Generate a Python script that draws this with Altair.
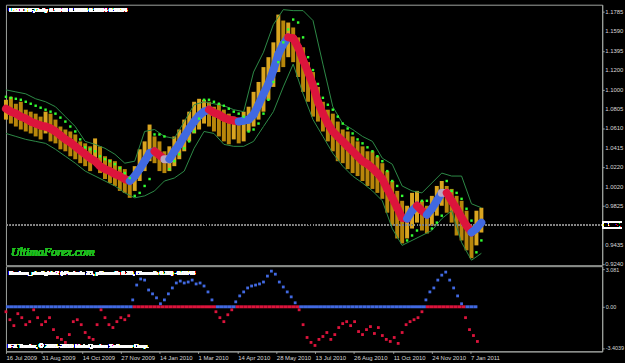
import json
import altair as alt
import numpy as np
import pandas as pd

# ---------------- data ----------------
SYMBOL = "USDCHF,Daily"
last_ohlc = [0.9640, 0.9686, 0.9604, 0.9634]
last_price = 0.9634

BAR_STEP = 5   # bar index step of the sampled price bars
price_high = [1.090, 1.093, 1.086, 1.088, 1.080, 1.078, 1.076, 1.073, 1.078, 1.076,
              1.070, 1.063, 1.060, 1.058, 1.055, 1.048, 1.046, 1.043, 1.051, 1.043,
              1.033, 1.030, 1.028, 1.023, 1.020, 1.013, 1.023, 1.040, 1.048, 1.065,
              1.053, 1.048, 1.038, 1.043, 1.053, 1.060, 1.070, 1.078, 1.088, 1.091,
              1.090, 1.088, 1.083, 1.086, 1.080, 1.076, 1.073, 1.070, 1.078, 1.083,
              1.098, 1.108, 1.123, 1.133, 1.148, 1.176, 1.170, 1.168, 1.163, 1.153,
              1.143, 1.128, 1.118, 1.103, 1.088, 1.080, 1.076, 1.068, 1.060, 1.058,
              1.053, 1.048, 1.043, 1.038, 1.038, 1.033, 1.026, 1.018, 1.008, 0.998,
              0.988, 0.983, 0.996, 0.998, 0.988, 0.983, 0.993, 1.003, 1.008, 1.003,
              1.000, 0.993, 0.988, 0.978, 0.963, 0.978, 0.981]
price_low = [1.070, 1.066, 1.063, 1.060, 1.058, 1.056, 1.053, 1.050, 1.056, 1.048,
             1.046, 1.040, 1.038, 1.033, 1.030, 1.026, 1.023, 1.018, 1.028, 1.016,
             1.010, 1.006, 1.003, 0.998, 0.996, 0.991, 0.998, 1.008, 1.018, 1.028,
             1.026, 1.018, 1.016, 1.018, 1.023, 1.030, 1.038, 1.048, 1.056, 1.060,
             1.066, 1.063, 1.058, 1.053, 1.048, 1.045, 1.050, 1.046, 1.048, 1.058,
             1.063, 1.070, 1.078, 1.090, 1.103, 1.118, 1.123, 1.133, 1.128, 1.113,
             1.098, 1.088, 1.073, 1.068, 1.058, 1.048, 1.038, 1.028, 1.026, 1.020,
             1.016, 1.013, 1.008, 1.003, 1.000, 0.996, 0.990, 0.976, 0.963, 0.950,
             0.945, 0.950, 0.960, 0.966, 0.958, 0.955, 0.963, 0.973, 0.983, 0.976,
             0.966, 0.953, 0.948, 0.938, 0.930, 0.943, 0.956]
band_line = [1.081, 1.078, 1.076, 1.073, 1.071, 1.068, 1.066, 1.064, 1.063, 1.061,
             1.058, 1.054, 1.050, 1.047, 1.043, 1.039, 1.035, 1.031, 1.028, 1.023,
             1.020, 1.018, 1.015, 1.013, 1.010, 1.008, 1.013, 1.020, 1.028, 1.036,
             1.038, 1.034, 1.030, 1.030, 1.038, 1.045, 1.053, 1.061, 1.068, 1.074,
             1.078, 1.080, 1.077, 1.075, 1.072, 1.070, 1.069, 1.068, 1.069, 1.070,
             1.075, 1.085, 1.096, 1.106, 1.120, 1.136, 1.146, 1.153, 1.152, 1.143,
             1.130, 1.118, 1.105, 1.088, 1.076, 1.066, 1.058, 1.053, 1.048, 1.043,
             1.038, 1.033, 1.028, 1.025, 1.021, 1.016, 1.010, 1.000, 0.991, 0.981,
             0.971, 0.970, 0.978, 0.983, 0.978, 0.974, 0.980, 0.988, 0.996, 0.996,
             0.988, 0.980, 0.971, 0.963, 0.956, 0.960, 0.966]
stop_dots = [1.093, 1.092, 1.091, 1.090, 1.088, 1.086, 1.084, 1.082, 1.080, 1.078,
             1.076, 1.072, 1.068, 1.063, 1.058, 1.050, 1.042, 1.040, 1.038, 1.033,
             1.030, 1.028, 1.025, 1.021, 1.016, 1.011, 0.993, 0.996, 1.003, 1.010,
             1.055, 1.055, 1.053, 1.020, 1.028, 1.035, 1.041, 1.048, 1.058, 1.071,
             1.090, 1.090, 1.088, 1.086, 1.084, 1.081, 1.078, 1.076, 1.073, 1.058,
             1.060, 1.066, 1.076, 1.090, 1.108, 1.128, 1.148, 1.161, 1.171, 1.168,
             1.153, 1.133, 1.120, 1.106, 1.092, 1.085, 1.080, 1.073, 1.066, 1.061,
             1.056, 1.050, 1.046, 1.042, 1.038, 1.033, 1.028, 1.018, 1.008, 1.003,
             0.993, 0.948, 0.953, 0.958, 0.988, 0.988, 0.960, 0.966, 0.973, 1.008,
             0.998, 0.996, 0.990, 0.980, 0.968, 0.936, 0.948]

ENV_STEP = 10
env_upper = [1.100, 1.098, 1.096, 1.091, 1.088, 1.083, 1.073, 1.063, 1.048, 1.045,
             1.041, 1.035, 1.026, 1.028, 1.058, 1.060, 1.053, 1.051, 1.068, 1.085,
             1.088, 1.086, 1.084, 1.080, 1.078, 1.118, 1.138, 1.166, 1.181, 1.180,
             1.180, 1.170, 1.126, 1.083, 1.066, 1.060, 1.053, 1.048, 1.031, 1.025,
             1.003, 0.998, 0.996, 1.006, 1.016, 1.013, 1.013, 0.985, 0.981]
env_lower = [1.056, 1.053, 1.050, 1.048, 1.046, 1.040, 1.033, 1.026, 1.018, 1.013,
             1.008, 1.003, 0.996, 0.991, 0.993, 0.998, 1.008, 1.011, 1.018, 1.041,
             1.058, 1.056, 1.045, 1.043, 1.043, 1.048, 1.063, 1.078, 1.103, 1.126,
             1.096, 1.070, 1.053, 1.036, 1.023, 1.013, 1.006, 0.998, 0.988, 0.960,
             0.943, 0.948, 0.953, 0.958, 0.970, 0.978, 0.946, 0.928, 0.935]

OSC_STEP = 4
osc_name = "Kuskus_starlightv2  (rPeriods 35, pSmooth 0.30, iSmooth 0.30)  -0.0643"
osc = [-0.41, -1.07, -1.56, -0.57, -0.90, -1.48, -1.23, -0.25, -0.90, -1.48,
       -1.23, -0.90, -1.89, -2.54, -2.70, -2.95, -2.30, -1.23, -1.07, -1.48,
       -2.13, -2.54, -2.70, -1.48, -0.25, -0.90, -1.48, -1.72, -1.23, -0.90,
       -1.07, -0.74, 0.57, 1.80, 2.30, 2.21, 1.39, 1.07, 0.74, 0.25,
       0.57, 1.07, 1.56, 1.97, 2.13, 1.97, 2.05, 2.21, 1.89, 1.97,
       1.72, 1.23, 0.57, -0.41, -0.90, -1.23, -0.66, -0.25, 0.41, 0.90,
       1.23, 1.56, 1.72, 1.80, 1.89, 2.05, 2.54, 2.95, 2.70, 2.05,
       1.64, 1.23, 0.82, 0.33, -0.25, -1.48, -2.54, -2.95, -3.20, -2.70,
       -2.46, -2.13, -2.70, -2.30, -1.72, -1.39, -1.23, -1.56, -1.23, -2.05,
       -2.30, -1.89, -1.64, -2.21, -1.72, -2.38, -2.70, -2.87, -2.54, -3.03,
       -2.13, -1.48, -1.23, -1.07, -0.90, -0.41, 0.57, 1.23, 1.56, 2.21,
       2.62, 2.87, 2.21, 1.56, 0.90, 0.25, -0.90, -1.89, -2.38, -2.87]

date_bars = [0, 36, 77, 116, 155, 194, 234, 273, 312, 351, 391, 430, 469]
date_labels = ["16 Jul 2009", "31 Aug 2009", "14 Oct 2009", "27 Nov 2009", "14 Jan 2010",
               "1 Mar 2010", "14 Apr 2010", "28 May 2010", "13 Jul 2010", "26 Aug 2010",
               "11 Oct 2010", "24 Nov 2010", "7 Jan 2011"]
price_ticks = [1.1785, 1.1590, 1.1395, 1.1200, 1.1000, 1.0805, 1.0610, 1.0415,
               1.0220, 1.0020, 0.9825, 0.9435, 0.9240]
osc_ticks = [3.081, 0.0, -3.4039]

# ---------------- styling ----------------
FONT = "Liberation Sans"
TXT = "#d8d8d8"
FRAME = "#a0a4a0"
BLUE = "#4169E1"
RED = "#DC143C"
GREY = "#b8a8c0"

xs = alt.Scale(domain=[0, 602], nice=False, zero=False)
ys = alt.Scale(domain=[0.923, 1.186], nice=False, zero=False)
os_ = alt.Scale(domain=[-3.69, 3.36], nice=False, zero=False)

# ---------------- frames ----------------
bars = pd.DataFrame({"bar": [i * BAR_STEP for i in range(len(price_high))],
                     "high": price_high, "low": price_low})
mid = ((bars["high"] + bars["low"]) / 2).tolist()
bars["col"] = ["#DAA520" if i == 0 or mid[i] >= mid[i - 1] else "#B8860B" for i in range(len(mid))]

bd = pd.DataFrame({"bar": [i * BAR_STEP for i in range(len(band_line))], "v": band_line})
bd["bar2"] = bd["bar"].shift(-1)
bd["v2"] = bd["v"].shift(-1)
bd = bd.dropna().copy()
bd["col"] = np.where(bd["v2"] > bd["v"], BLUE, np.where(bd["v2"] < bd["v"], RED, GREY))

dots = pd.DataFrame({"bar": [i * BAR_STEP for i in range(len(stop_dots))], "v": stop_dots})

env = pd.concat([
    pd.DataFrame({"bar": [i * ENV_STEP for i in range(len(env_upper))], "v": env_upper, "s": "upper"}),
    pd.DataFrame({"bar": [i * ENV_STEP for i in range(len(env_lower))], "v": env_lower, "s": "lower"}),
])

ticks_df = pd.DataFrame({"p": price_ticks, "lab": [f"{v:.4f}" for v in price_ticks]})

od = pd.DataFrame({"bar": [i * OSC_STEP for i in range(len(osc))], "v": osc})
od["col"] = np.where(od["v"] >= 0, BLUE, RED)
zl = od.copy()
zl["bar2"] = zl["bar"].shift(-1)
zl = zl.dropna().copy()
zl["zero"] = 0.0
zl["col"] = np.where(zl["v"] >= 0, RED, BLUE)

x_main = alt.X("bar:Q", scale=xs, axis=None)
y_axis = alt.Axis(orient="right", values=price_ticks, labels=False, tickColor=FRAME, tickSize=2,
                  domainColor=FRAME, grid=False, title=None)

price_layer = alt.Chart(bars).mark_rule(strokeWidth=4).encode(
    x=x_main, y=alt.Y("high:Q", scale=ys, axis=y_axis), y2="low:Q",
    color=alt.Color("col:N", scale=None))
band_layer = alt.Chart(bd).mark_rule(strokeWidth=8, strokeCap="round").encode(
    x="bar:Q", x2="bar2:Q", y="v:Q", y2="v2:Q", color=alt.Color("col:N", scale=None))
env_layer = alt.Chart(env).mark_line(color="#2e8b47", strokeWidth=1).encode(
    x="bar:Q", y="v:Q", detail="s:N")
dot_layer = alt.Chart(dots).mark_square(size=6, color="#33ff33", opacity=1).encode(
    x="bar:Q", y="v:Q")
tick_labels = alt.Chart(ticks_df).mark_text(align="left", baseline="middle", color=TXT,
                                            fontSize=6, font=FONT).encode(
    x=alt.value(605), y="p:Q", text="lab:N")
last_rule = alt.Chart(bars).mark_rule(color="#8a8a8a", strokeWidth=1, strokeDash=[1, 2]).encode(
    y=alt.datum(last_price))
box = alt.Chart(bars).mark_rect(color="white", yOffset=-3.5, y2Offset=3.5).encode(
    x=alt.value(602), x2=alt.value(622), y=alt.datum(last_price), y2=alt.datum(last_price))
box_txt = alt.Chart(bars).mark_text(align="left", baseline="middle", color="black",
                                    fontSize=6, font=FONT).encode(
    x=alt.value(604), y=alt.datum(last_price), text=alt.value(f"{last_price:.4f}"))
header = alt.Chart(bars).mark_text(align="left", baseline="middle", color="white",
                                   fontSize=6, font=FONT).encode(
    x=alt.value(3), y=alt.value(5),
    text=alt.value(SYMBOL + "  " + " ".join(f"{v:.4f}" for v in last_ohlc)))
brand = alt.Chart(bars).mark_text(align="left", baseline="middle", color="#22bb22",
                                  fontSize=12, font="Liberation Serif", fontStyle="italic").encode(
    x=alt.value(5), y=alt.value(250), text=alt.value("UltimaForex.com"))

main = alt.layer(price_layer, last_rule, band_layer, env_layer, dot_layer, tick_labels,
                 box, box_txt, header, brand).properties(width=602, height=263)

label_expr = (json.dumps(date_labels) + "[indexof(" + json.dumps(date_bars) + ", datum.value)]")
x_axis = alt.Axis(values=date_bars, labelExpr=label_expr, labelAlign="left", labelBaseline="top",
                  labelFontSize=6, labelFont=FONT, labelColor=TXT, tickColor=FRAME, tickSize=2,
                  labelPadding=1, domainColor=FRAME, grid=False, title=None,
                  labelOverlap=False, labelFlush=False, labelBound=False)
o_axis = alt.Axis(orient="right", values=osc_ticks,
                  labelExpr="datum.value == 0 ? '0.00' : toString(datum.value)",
                  labelFontSize=5.5, labelFont=FONT, labelColor=TXT, tickColor=FRAME,
                  tickSize=2, labelPadding=1, domainColor=FRAME, grid=False, title=None,
                  labelOverlap=False, labelBound=False)

zero_layer = alt.Chart(zl).mark_rule(strokeWidth=3).encode(
    x=alt.X("bar:Q", scale=xs, axis=x_axis), x2="bar2:Q",
    y=alt.Y("zero:Q", scale=os_, axis=o_axis), color=alt.Color("col:N", scale=None))
osc_layer = alt.Chart(od).mark_square(size=8, opacity=1).encode(
    x="bar:Q", y="v:Q", color=alt.Color("col:N", scale=None))
osc_title = alt.Chart(od).mark_text(align="left", baseline="middle", color="white",
                                    fontSize=6, font=FONT).encode(
    x=alt.value(3), y=alt.value(7), text=alt.value(osc_name))
copy_txt = alt.Chart(od).mark_text(align="left", baseline="middle", color="white",
                                   fontSize=6, font=FONT).encode(
    x=alt.value(2), y=alt.value(81), text=alt.value("IFX Trader, \u00a9 2001-2010 MetaQuotes Software Corp."))

lower = alt.layer(zero_layer, osc_layer, osc_title, copy_txt).properties(width=602, height=86)

chart = alt.vconcat(main, lower, spacing=1, bounds="flush").properties(
    padding={"left": 1, "top": 2, "right": 0, "bottom": 0},
    background="black",
).configure_view(stroke=FRAME, strokeWidth=1).configure_axis(labelOverlap=False)

chart.save("out.html", embed_options={"renderer": "svg", "actions": False})
